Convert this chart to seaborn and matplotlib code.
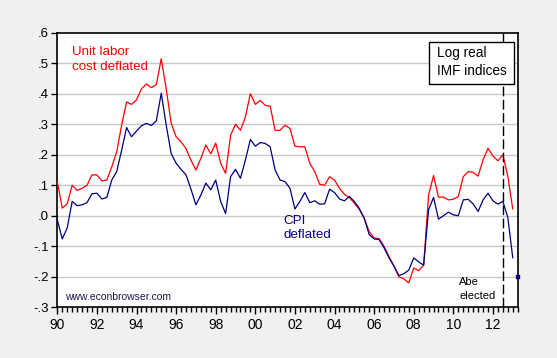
import numpy as np
import pandas as pd
import matplotlib
matplotlib.use("Agg")
import matplotlib.pyplot as plt
from matplotlib.patches import Rectangle
import seaborn as sns

# ---- data (quarterly, 1990Q1 .. 2013Q1) ----
start_year = 1990
ulc_deflated = [
    0.112, 0.025, 0.039, 0.100,
    0.083, 0.090, 0.100, 0.134,
    0.134, 0.114, 0.117, 0.160,
    0.210, 0.297, 0.373, 0.365,
    0.380, 0.416, 0.432, 0.420,
    0.430, 0.515, 0.416, 0.303,
    0.259, 0.242, 0.220, 0.182,
    0.150, 0.188, 0.232, 0.203,
    0.238, 0.172, 0.139, 0.264,
    0.300, 0.280, 0.324, 0.400,
    0.365, 0.378, 0.362, 0.359,
    0.280, 0.280, 0.297, 0.286,
    0.228, 0.226, 0.226, 0.172,
    0.145, 0.103, 0.100, 0.128,
    0.117, 0.090, 0.070, 0.060,
    0.041, 0.021, -0.008, -0.052,
    -0.073, -0.075, -0.100, -0.133,
    -0.165, -0.200, -0.207, -0.220,
    -0.171, -0.180, -0.162, 0.068,
    0.132, 0.061, 0.061, 0.052,
    0.054, 0.063, 0.128, 0.145,
    0.142, 0.130, 0.183, 0.221,
    0.196, 0.180, 0.200, 0.130,
    0.022,
]
cpi_deflated = [
    -0.013, -0.076, -0.040, 0.047,
    0.033, 0.036, 0.043, 0.072,
    0.074, 0.055, 0.060, 0.117,
    0.145, 0.215, 0.289, 0.259,
    0.278, 0.295, 0.303, 0.296,
    0.311, 0.402, 0.297, 0.204,
    0.172, 0.152, 0.134, 0.087,
    0.036, 0.068, 0.107, 0.085,
    0.117, 0.047, 0.007, 0.128,
    0.152, 0.123, 0.183, 0.250,
    0.228, 0.240, 0.237, 0.226,
    0.150, 0.117, 0.112, 0.090,
    0.022, 0.047, 0.076, 0.043,
    0.049, 0.038, 0.039, 0.087,
    0.076, 0.055, 0.049, 0.063,
    0.047, 0.024, -0.008, -0.062,
    -0.076, -0.078, -0.105, -0.138,
    -0.165, -0.196, -0.190, -0.178,
    -0.138, -0.151, -0.162, 0.020,
    0.060, -0.011, 0.000, 0.012,
    0.003, 0.000, 0.052, 0.054,
    0.039, 0.014, 0.052, 0.074,
    0.049, 0.038, 0.047, -0.005,
    -0.138,
]
cpi_latest_x = [2013.25]
cpi_latest_y = [-0.200]
abe_elected_x = 2012.52

y_ticks = [0.6, 0.5, 0.4, 0.3, 0.2, 0.1, 0.0, -0.1, -0.2, -0.3]
y_tick_labels = [".6", ".5", ".4", ".3", ".2", ".1", ".0", "-.1", "-.2", "-.3"]
x_ticks = list(range(1990, 2013, 2))
x_tick_labels = ["90", "92", "94", "96", "98", "00", "02", "04", "06", "08", "10", "12"]

dates = start_year + np.arange(len(ulc_deflated)) / 4.0
df = pd.DataFrame({"date": dates, "ulc": ulc_deflated, "cpi": cpi_deflated})

sns.set_style("white")
plt.rcParams["font.family"] = ["Liberation Sans", "DejaVu Sans"]

W, H = 557, 358
fig = plt.figure(figsize=(W / 100, H / 100), dpi=100, facecolor="#F0F0F0")
ax = fig.add_axes([57.3 / W, 1 - 307.3 / H, (518.3 - 57.3) / W, (307.3 - 32.7) / H])
ax.set_facecolor("white")

for yv in y_ticks[1:-1]:
    ax.axhline(yv, color="#C8C8C8", lw=1.0, zorder=0)

sns.lineplot(data=df, x="date", y="ulc", color="#FF0000", lw=0.9, ax=ax, zorder=3)
sns.lineplot(data=df, x="date", y="cpi", color="#000080", lw=0.9, ax=ax, zorder=4)
sns.scatterplot(x=cpi_latest_x, y=cpi_latest_y, color="#000080", marker="s", s=9,
                edgecolor="#000080", ax=ax, zorder=5, clip_on=False)

ax.axvline(abe_elected_x, color="black", lw=1.0, dashes=(7, 2.5), zorder=6)

ax.set_xlim(1990, 2013.28)
ax.set_ylim(-0.3, 0.6)
ax.set_xlabel("")
ax.set_ylabel("")

ax.set_yticks(y_ticks)
ax.set_yticklabels(y_tick_labels, fontsize=9.5)
ax.set_xticks(x_ticks)
ax.set_xticklabels(x_tick_labels, fontsize=10)
ax.set_xticks(np.arange(1990, 2013.3, 0.25), minor=True)
ax.tick_params(axis="y", which="major", direction="out", length=4, width=1,
               left=True, right=False, color="black", labelcolor="black", pad=2)
ax.tick_params(axis="x", which="major", direction="out", length=5, width=1,
               bottom=True, top=False, color="black", labelcolor="black", pad=3)
ax.tick_params(axis="x", which="minor", direction="out", length=3.5, width=1,
               bottom=True, top=False, color="black")

for s in ax.spines.values():
    s.set_visible(True)
    s.set_color("black")
    s.set_linewidth(1.2)

# annotations
fig.text(71.7 / W, 1 - 46 / H, "Unit labor\ncost deflated", color="#FF0000",
         fontsize=9.6, va="top", ha="left", linespacing=1.35)
fig.text(283 / W, 1 - 215 / H, "CPI\ndeflated", color="#000080",
         fontsize=9.6, va="top", ha="left", linespacing=1.2)
fig.text(459 / W, 1 - 277 / H, "Abe\nelected", color="black",
         fontsize=8.0, va="top", ha="left", linespacing=1.55)
fig.text(65 / W, 1 - 292 / H, "www.econbrowser.com", color="#1a1a50",
         fontsize=7.5, va="top", ha="left")

rect = Rectangle((429.3 / W, 1 - 84.3 / H), 85 / W, 42.6 / H, transform=fig.transFigure,
                 facecolor="white", edgecolor="black", lw=1.0, zorder=10)
fig.patches.append(rect)
fig.text(437 / W, 1 - 46 / H, "Log real\nIMF indices", color="black",
         fontsize=9.8, va="top", ha="left", linespacing=1.4, zorder=11)

fig.savefig("out.png", dpi=100, facecolor=fig.get_facecolor())
